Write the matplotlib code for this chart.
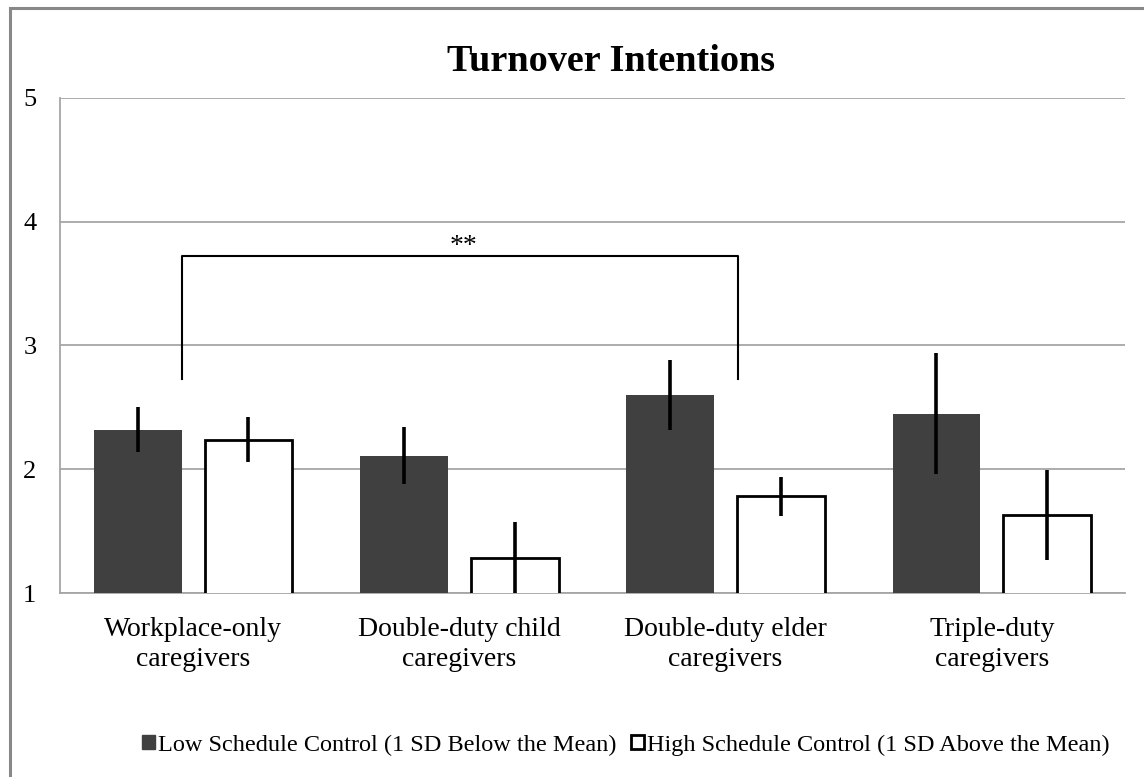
import numpy as np
import matplotlib.pyplot as plt
from matplotlib.patches import Rectangle, Patch

categories = ['Workplace-only\ncaregivers', 'Double-duty child\ncaregivers',
              'Double-duty elder\ncaregivers', 'Triple-duty\ncaregivers']
low_means = [2.32, 2.11, 2.60, 2.45]
low_err = [0.18, 0.23, 0.285, 0.49]
high_means = [2.24, 1.28, 1.78, 1.63]
high_err = [0.18, 0.29, 0.16, 0.36]
labels = ['Low Schedule Control (1 SD Below the Mean)',
          'High Schedule Control (1 SD Above the Mean)']

plt.rcParams['font.family'] = ['Liberation Serif', 'DejaVu Serif']

fig = plt.figure(figsize=(11.44, 7.77), dpi=100)
ax = fig.add_axes([0.0524, 0.2368, 0.931, 0.6371])

x = np.arange(len(categories))
w = 0.33
off = 0.208

ax.bar(x - off, low_means, w, color='#404040', zorder=3)
ax.bar(x + off, high_means, w, color='white', edgecolor='black', linewidth=2, zorder=3)
ax.errorbar(x - off, low_means, yerr=low_err, fmt='none', ecolor='black',
            elinewidth=2.6, capsize=0, zorder=4)
ax.errorbar(x + off, high_means, yerr=high_err, fmt='none', ecolor='black',
            elinewidth=2.6, capsize=0, zorder=4)

# significance bracket
ax.plot([-0.041, -0.041, 2.047, 2.047], [2.73, 3.72, 3.72, 2.73],
        color='black', linewidth=1.5, zorder=4)
ax.text(1.014, 3.80, '**', ha='center', va='center', fontsize=20)

ax.set_ylim(1, 5)
ax.set_xlim(-0.5, 3.5)
ax.set_yticks([1, 2, 3, 4, 5])
ax.set_xticks(x)
ax.set_xticklabels(categories, fontsize=20, linespacing=1.3)
ax.tick_params(axis='y', labelsize=19, length=0, pad=17)
ax.tick_params(axis='x', length=0, pad=17)
ax.yaxis.grid(True, color='#a6a6a6', linewidth=1.3, zorder=0)
ax.set_axisbelow(True)
for s in ['top', 'right']:
    ax.spines[s].set_visible(False)
for s in ['left', 'bottom']:
    ax.spines[s].set_color('#a6a6a6')
    ax.spines[s].set_linewidth(1.3)

fig.text(0.534, 0.921, 'Turnover Intentions', ha='center', va='center',
         fontsize=27.5, fontweight='bold')

handles = [Patch(facecolor='#404040', edgecolor='#404040'),
           Patch(facecolor='white', edgecolor='black', linewidth=2)]
fig.legend(handles, labels, loc='center', bbox_to_anchor=(0.547, 0.041),
           ncol=2, frameon=False, fontsize=17.5, handlelength=0.55,
           handleheight=0.55, handletextpad=0.12, columnspacing=0.6)

fig.patches.append(Rectangle((0.0087, -0.1), 1.2, 1.0897, transform=fig.transFigure,
                             fill=False, edgecolor='#888888', linewidth=2.2))

fig.savefig('out.png', dpi=100)
